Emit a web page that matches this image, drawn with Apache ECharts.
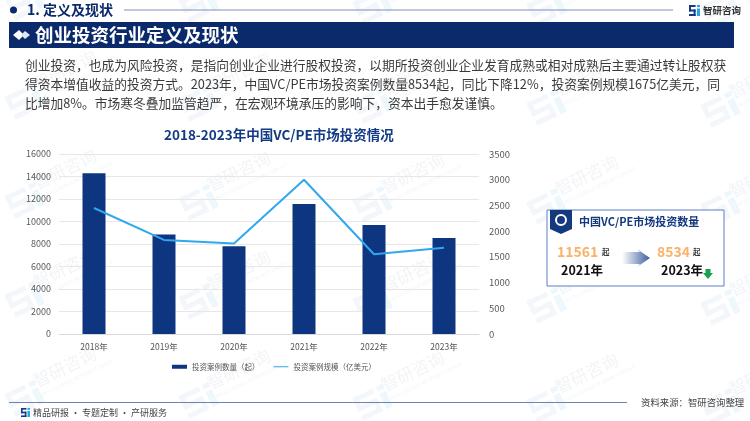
<!DOCTYPE html>
<html>
<head>
<meta charset="UTF-8">
<title>2018-2023年中国VC/PE市场投资情况</title>
<style type="text/css">
html, body { margin: 0; padding: 0; background: #fff; }
#main { width: 750px; height: 421px; }
</style>
</head>
<body>
<div id="main"></div>
<script src="https://cdn.jsdelivr.net/npm/echarts@6/dist/echarts.min.js"></script>
<script type="text/javascript">
var years = ['2018年', '2019年', '2020年', '2021年', '2022年', '2023年'];
var caseCount = [14300, 8850, 7800, 11561, 9700, 8534];
var caseScale = [2450, 1830, 1760, 3000, 1550, 1675];
var bodyLines = [
	'创业投资，也成为风险投资，是指向创业企业进行股权投资，以期所投资创业企业发育成熟或相对成熟后主要通过转让股权获',
	'得资本增值收益的投资方式。2023年，中国VC/PE市场投资案例数量8534起，同比下降12%，投资案例规模1675亿美元，同',
	'比增加8%。市场寒冬叠加监管趋严，在宏观环境承压的影响下，资本出手愈发谨慎。'
];

var FONT = '"Noto Sans CJK SC", "Noto Sans", sans-serif';
var NAVY = '#0b2a6b';
var g = [];

function text(x, y, str, size, color, weight, align) {
	g.push({
		type: 'text', x: x, y: y, z: 20,
		style: {
			text: str, font: (weight || 'normal') + ' ' + size + 'px ' + FONT,
			fill: color, textAlign: align || 'left', textVerticalAlign: 'middle'
		}
	});
}
function rect(x, y, w, h, fill, z) {
	g.push({ type: 'rect', z: z || 10, shape: { x: x, y: y, width: w, height: h }, style: { fill: fill } });
}
// 小logo
function logo(x, y, s, c1, c2) {
	rect(x, y, s * 0.6, s * 0.18, c1);
	rect(x, y + s * 0.82, s * 0.6, s * 0.18, c1);
	rect(x, y + s * 0.41, s * 0.6, s * 0.18, c1);
	rect(x, y, s * 0.18, s * 0.59, c1);
	rect(x + s * 0.42, y + s * 0.41, s * 0.18, s * 0.59, c1);
	rect(x + s * 0.72, y, s * 0.28, s * 0.2, c2);
	rect(x + s * 0.72, y + s * 0.32, s * 0.28, s * 0.68, c2);
}
// 水印
function wmRect(x, y, w, h, fill) {
	return { type: 'rect', shape: { x: x, y: y, width: w, height: h }, style: { fill: fill } };
}
for (var r = -1; r < 4; r++) {
	for (var c = -1; c < 5; c++) {
		g.push({
			type: 'group', x: 70 + c * 174, y: 70 + r * 99 + (c + 1) * 2, rotation: 26 * Math.PI / 180, z: 1,
			children: [
				wmRect(-70, -6, 22, 5, '#f3f6fa'),
				wmRect(-70, 4, 22, 5, '#f3f6fa'),
				wmRect(-70, 14, 22, 5, '#f3f6fa'),
				wmRect(-70, -6, 5, 15, '#f3f6fa'),
				wmRect(-53, 4, 5, 15, '#f3f6fa'),
				wmRect(-44, -6, 7, 5, '#eef7fc'),
				wmRect(-44, 2, 7, 17, '#eef7fc'),
				{ type: 'text', x: -38, y: -4, style: { text: '智研咨询', font: '17px ' + FONT, fill: '#f2f4f7', letterSpacing: 3, textVerticalAlign: 'middle' } },
				{ type: 'text', x: -36, y: 11, style: { text: 'INTELLIGENCE RESEARCH GROUP', font: '5px ' + FONT, fill: '#f2f4f7', textVerticalAlign: 'middle' } }
			]
		});
	}
}
// 顶部
g.push({ type: 'circle', z: 10, shape: { cx: 13.5, cy: 10, r: 3.5 }, style: { fill: NAVY } });
text(27, 10, '1. 定义及现状', 14, NAVY, 'bold');
rect(124, 9.5, 549, 1, '#8090bd');
logo(689, 5, 11, '#123a85', '#2aa3e8');
text(703, 10, '智研咨询', 9.5, '#333', 'bold');
// 标题条
rect(9, 22, 725, 26, NAVY);
g.push({ type: 'polygon', z: 11, shape: { points: [[13, 35], [19, 30], [24, 35], [19, 40]] }, style: { fill: '#fff' } });
g.push({ type: 'polygon', z: 11, shape: { points: [[21, 35], [25, 31], [30, 35], [25, 39]] }, style: { fill: '#dfe6f2' } });
text(35, 34.5, '创业投资行业定义及现状', 18.5, '#fff', 'bold');
// 正文
for (var i = 0; i < bodyLines.length; i++) {
	text(25, 65 + i * 19, bodyLines[i], 12.75, '#3a3a3a');
}
// 右侧卡片
g.push({ type: 'rect', z: 10, shape: { x: 547, y: 210, width: 177, height: 76 }, style: { fill: '#fff', stroke: '#5b7fc4', lineWidth: 1 } });
g.push({ type: 'polygon', z: 11, shape: { points: [[550, 210], [572, 210], [572, 229], [561, 234], [550, 229]] }, style: { fill: '#15397f' } });
g.push({ type: 'circle', z: 12, shape: { cx: 561, cy: 220, r: 5 }, style: { fill: 'none', stroke: '#fff', lineWidth: 2 } });
text(579, 222, '中国VC/PE市场投资数量', 11, '#15397f', 'bold');
text(557, 252, '11561', 14, '#f9b267', 'bold');
text(602, 252, '起', 7.5, '#333', 'bold');
text(561, 270, '2021年', 12.5, '#111', 'bold');
g.push({
	type: 'polygon', z: 11,
	shape: { points: [[622, 252], [640, 252], [637, 249], [650, 258], [637, 267], [640, 264], [622, 264]] },
	style: { fill: { type: 'linear', x: 0, y: 0, x2: 1, y2: 0, colorStops: [{ offset: 0, color: '#ffffff' }, { offset: 1, color: '#3c5f9f' }] } }
});
text(657, 252, '8534', 14, '#f9b267', 'bold');
text(693, 252, '起', 7.5, '#333', 'bold');
text(661, 270, '2023年', 12.5, '#111', 'bold');
g.push({ type: 'polygon', z: 11, shape: { points: [[705.5, 269], [710.5, 269], [710.5, 273], [713, 273], [708, 279], [703, 273], [705.5, 273]] }, style: { fill: '#16a34a' } });
// 底部
rect(9, 402, 618, 1, '#6f82b8');
logo(21, 408, 9, '#123a85', '#2aa3e8');
text(33, 413, '精品研报 · 专题定制 · 产研服务', 9, '#444');
text(641, 402.5, '资料来源：智研咨询整理', 9.4, '#444');

function plainNumber(v) {
	return String(v);
}

var myChart = echarts.init(document.getElementById('main'));
var option = {
	animation: false,
	textStyle: { fontFamily: FONT },
	title: {
		text: '2018-2023年中国VC/PE市场投资情况',
		left: 159, top: 123,
		textStyle: { fontSize: 13.5, fontWeight: 'bold', color: '#123a85', fontFamily: FONT }
	},
	legend: {
		left: 167, top: 358, itemWidth: 15, itemHeight: 4, itemGap: 14,
		textStyle: { fontSize: 7.5, color: '#555' },
		data: [
			{ name: '投资案例数量（起）', icon: 'rect' },
			// 细线图例，上下留空让线比方块薄
			{ name: '投资案例规模（亿美元）', icon: 'path://M0,0h.01v.01h-.01zM0,1.5h16v1h-16zM15.99,3.99h.01v.01h-.01z' }
		]
	},
	grid: { left: 59, right: 271, top: 154, bottom: 87 },
	xAxis: {
		type: 'category', data: years,
		axisLine: { lineStyle: { color: '#d9d9d9' } },
		axisTick: { show: false },
		axisLabel: { fontSize: 8.5, color: '#555', margin: 9 }
	},
	yAxis: [{
		type: 'value', min: 0, max: 16000, interval: 2000,
		axisLine: { show: false }, axisTick: { show: false },
		axisLabel: { fontSize: 9, color: '#595959', margin: 8, formatter: plainNumber },
		splitLine: { lineStyle: { color: '#e7e7e7' } }
	}, {
		type: 'value', min: 0, max: 3500, interval: 500,
		axisLine: { show: false }, axisTick: { show: false },
		axisLabel: { fontSize: 9.5, color: '#595959', margin: 10, formatter: plainNumber },
		splitLine: { show: false }
	}],
	series: [{
		name: '投资案例数量（起）', type: 'bar', barWidth: 23,
		itemStyle: { color: '#0e3680' }, data: caseCount
	}, {
		name: '投资案例规模（亿美元）', type: 'line', yAxisIndex: 1,
		symbol: 'none', lineStyle: { color: '#2fa8ee', width: 2 },
		itemStyle: { color: '#2fa8ee' }, data: caseScale
	}],
	graphic: { elements: g }
};
myChart.setOption(option);
</script>
</body>
</html>
